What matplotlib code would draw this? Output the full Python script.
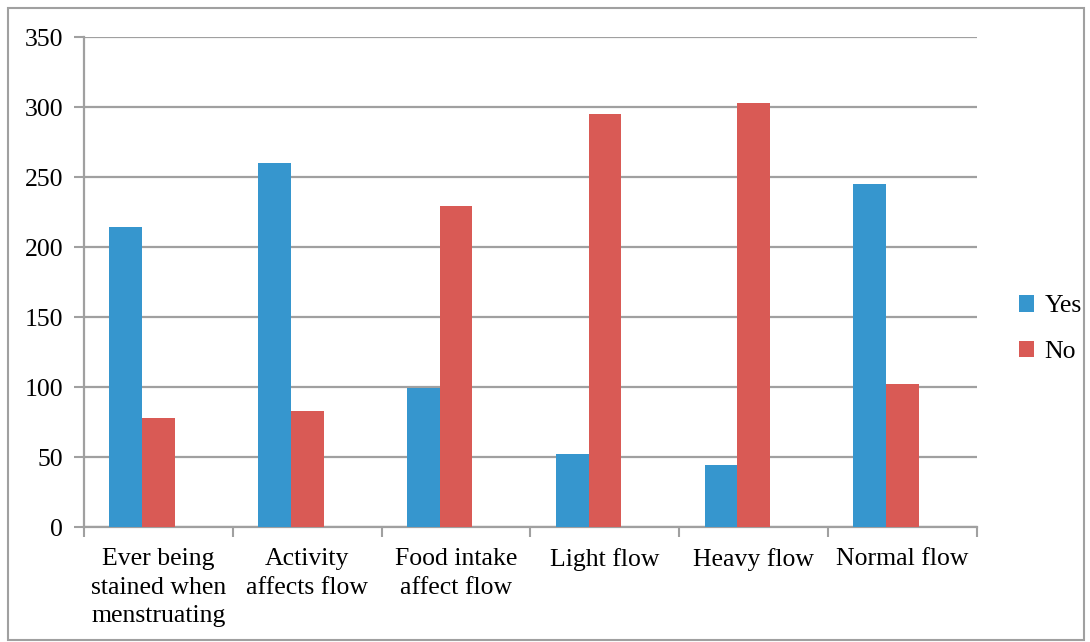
import numpy as np
import matplotlib.pyplot as plt
from matplotlib.patches import Rectangle

plt.rcParams['font.family'] = ['Liberation Serif', 'DejaVu Serif']

categories = ["Ever being\nstained when\nmenstruating", "Activity\naffects flow",
              "Food intake\naffect flow", "Light flow", "Heavy flow", "Normal flow"]
yes = [214, 260, 99, 52, 44, 245]
no = [78, 83, 229, 295, 303, 102]

blue = "#3696CE"
red = "#D95A55"
grid_col = "#A0A0A0"
fs = 18.5

fig = plt.figure(figsize=(10.9, 6.42), dpi=100)
ax = fig.add_axes([84/1090, 1-527/642, 893/1090, 490/642])

x = np.arange(len(categories))
w = 0.22
ax.bar(x - w, yes, w, color=blue, label="Yes", zorder=3)
ax.bar(x, no, w, color=red, label="No", zorder=3)

ax.set_xlim(-0.5, len(categories) - 0.5)
ax.set_ylim(0, 350)
ax.set_yticks(range(0, 351, 50))
ax.yaxis.grid(True, color=grid_col, linewidth=1.6, zorder=0)

ax.set_xticks(x)
ax.set_xticklabels(categories, fontsize=fs, linespacing=1.4)
ax.set_xticks(np.arange(-0.5, len(categories)), minor=True)
ax.tick_params(axis='x', which='major', length=0, pad=15)
ax.tick_params(axis='x', which='minor', length=7, width=1.5, color=grid_col)
ax.tick_params(axis='y', labelsize=fs, length=7, width=1.5, color=grid_col, pad=8)

for s in ["top", "right"]:
    ax.spines[s].set_visible(False)
for s in ["left", "bottom"]:
    ax.spines[s].set_color(grid_col)
    ax.spines[s].set_linewidth(1.6)

ax.legend(loc="center left", bbox_to_anchor=(1.021, 0.404), frameon=False,
          fontsize=fs, handlelength=0.6, handleheight=0.6, handletextpad=0.4,
          labelspacing=0.9)

fig.patches.append(Rectangle((8/1090, 2/642), 1076/1090, 632/642, transform=fig.transFigure,
                             fill=False, edgecolor="#A0A0A0", linewidth=1.5))

fig.savefig("out.png", dpi=100)
